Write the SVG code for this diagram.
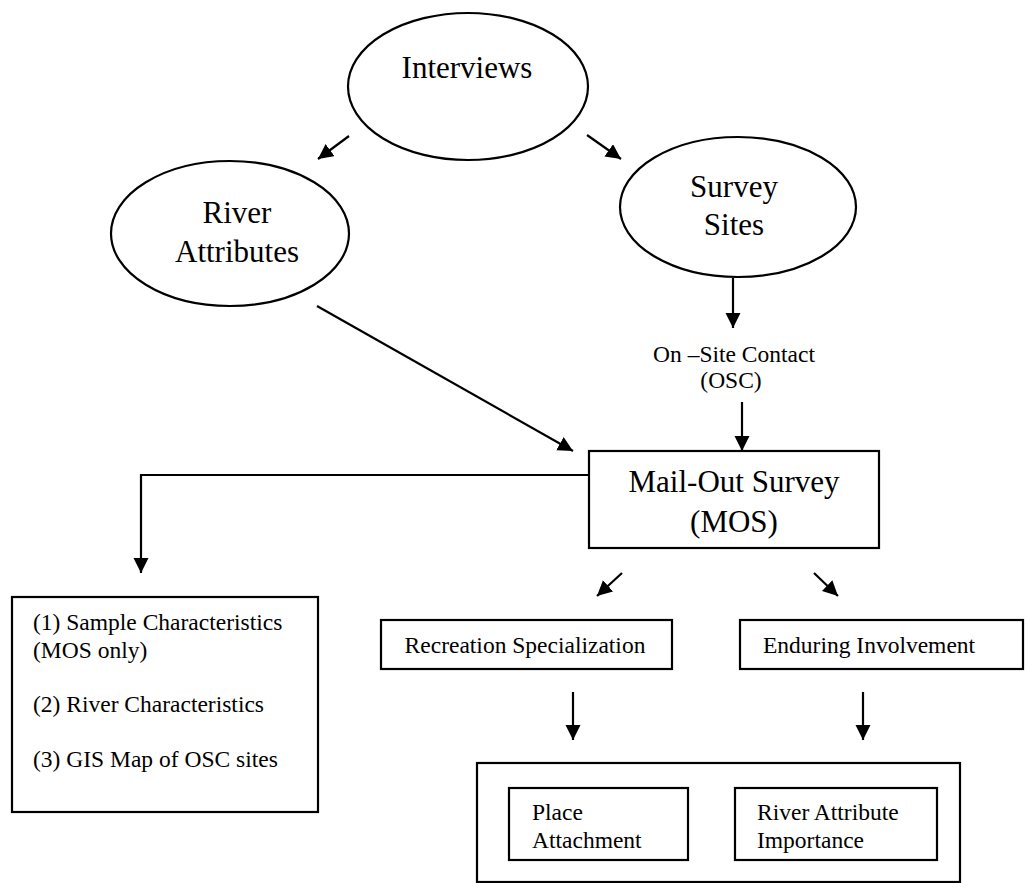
<svg xmlns="http://www.w3.org/2000/svg" width="1025" height="883" viewBox="0 0 1025 883">
<defs>
<marker id="ah" markerUnits="userSpaceOnUse" markerWidth="16" markerHeight="16" refX="15" refY="7.5" orient="auto">
<path d="M0,0 L15,7.5 L0,15 z" fill="#000"/>
</marker>
<style>
.sh{fill:#fff;stroke:#000;stroke-width:2.2}
.ln{fill:none;stroke:#000;stroke-width:2.2}
.ar{fill:none;stroke:#000;stroke-width:2.2;marker-end:url(#ah)}
text{font-family:"Liberation Serif","Times New Roman",serif;fill:#000}
.big{font-size:31px;text-anchor:middle}
.mid{font-size:23.5px}
.c{text-anchor:middle}
</style>
</defs>
<rect width="1025" height="883" fill="#fff"/>
<g id="connectors">
<line class="ar" x1="349" y1="136" x2="318" y2="159"/>
<line class="ar" x1="587" y1="135" x2="621" y2="159"/>
<line class="ar" x1="317" y1="306" x2="573" y2="451"/>
<line class="ar" x1="733" y1="278" x2="733" y2="328"/>
<line class="ar" x1="742" y1="402" x2="742" y2="451"/>
<polyline class="ar" points="589,475 141,475 141,573"/>
<line class="ar" x1="622" y1="573" x2="597" y2="596"/>
<line class="ar" x1="814" y1="573" x2="838" y2="596"/>
<line class="ar" x1="573" y1="692" x2="573" y2="740"/>
<line class="ar" x1="863" y1="692" x2="863" y2="740"/>
</g>
<g id="interviews">
<ellipse class="sh" cx="468" cy="86.5" rx="120" ry="73.5"/>
<text class="big" x="467" y="78">Interviews</text>
</g>
<g id="river-attributes">
<ellipse class="sh" cx="230" cy="233.5" rx="119" ry="72.5"/>
<text class="big" x="237" y="223">River</text>
<text class="big" x="237" y="262">Attributes</text>
</g>
<g id="survey-sites">
<ellipse class="sh" cx="738" cy="207" rx="118" ry="70"/>
<text class="big" x="734" y="197">Survey</text>
<text class="big" x="734" y="235">Sites</text>
</g>
<g id="osc">
<text class="mid c" x="734" y="362">On –Site Contact</text>
<text class="mid c" x="731" y="388">(OSC)</text>
</g>
<g id="mos">
<rect class="sh" x="589" y="451" width="290" height="97"/>
<text class="big" x="734" y="492">Mail-Out Survey</text>
<text class="big" x="734" y="532">(MOS)</text>
</g>
<g id="sample-box">
<rect class="sh" x="12" y="597" width="306" height="215"/>
<text class="mid" x="33" y="630" font-size="24">(1) Sample Characteristics</text>
<text class="mid" x="33" y="658" font-size="24">(MOS only)</text>
<text class="mid" x="33" y="712" font-size="24">(2) River Characteristics</text>
<text class="mid" x="33" y="767" font-size="24">(3) GIS Map of OSC sites</text>
</g>
<g id="recreation">
<rect class="sh" x="381" y="620" width="291" height="49"/>
<text class="mid c" x="525" y="653">Recreation Specialization</text>
</g>
<g id="enduring">
<rect class="sh" x="740" y="620" width="283" height="49"/>
<text class="mid" x="763" y="653">Enduring Involvement</text>
</g>
<g id="outcomes">
<rect class="sh" x="477" y="763" width="483" height="119"/>
</g>
<g id="place-attachment">
<rect class="sh" x="509" y="788" width="179" height="72"/>
<text class="mid" x="532" y="820">Place</text>
<text class="mid" x="532" y="848">Attachment</text>
</g>
<g id="river-attribute-importance">
<rect class="sh" x="735" y="788" width="202" height="72"/>
<text class="mid" x="757" y="820">River Attribute</text>
<text class="mid" x="757" y="848">Importance</text>
</g>
</svg>
